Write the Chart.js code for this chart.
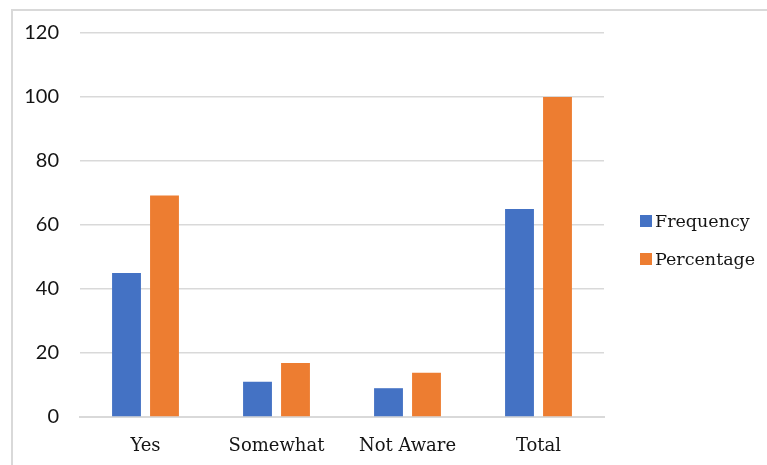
<!DOCTYPE html>
<html>
<head>
<meta charset="utf-8">
<script src="https://cdn.jsdelivr.net/npm/chart.js@4"></script>
<style>
  html, body { margin: 0; padding: 0; background: #ffffff; }
  #wrap { position: relative; width: 767px; height: 465px; overflow: hidden; }
  #frame { position: absolute; left: 11px; top: 9px; width: 800px; height: 500px;
           border-left: 2px solid #d9d9d9; border-top: 2px solid #d9d9d9; pointer-events: none; }
  canvas { position: absolute; left: 0; top: 0; }
</style>
</head>
<body>
<div id="wrap">
  <canvas id="c" width="767" height="465"></canvas>
  <div id="frame"></div>
</div>
<script>
// Awareness responses: counts and share of all respondents
const categories = ['Yes', 'Somewhat', 'Not Aware', 'Total'];
const frequency = [45, 11, 9, 65];
const percentage = [69.2, 16.9, 13.8, 100];
const seriesNames = ['Frequency', 'Percentage'];
const yTicks = [0, 20, 40, 60, 80, 100, 120];

const BLUE = '#4472C4';
const ORANGE = '#ED7D31';
const GRID = '#d9d9d9';
const TEXT = '#141414';
const SERIF = '"DejaVu Serif", serif';

// Legend drawn to the right of the plot, one square swatch per series
const sideLegend = {
  id: 'sideLegend',
  afterDraw(chart) {
    const ctx = chart.ctx;
    ctx.save();
    ctx.font = '17.5px ' + SERIF;
    ctx.textBaseline = 'middle';
    ctx.textAlign = 'left';
    chart.data.datasets.forEach((ds, i) => {
      const cy = 221 + i * 38;
      ctx.fillStyle = ds.backgroundColor;
      ctx.fillRect(640, cy - 6, 12, 12);
      ctx.fillStyle = TEXT;
      ctx.fillText(ds.label, 655, cy + 1);
    });
    ctx.restore();
  }
};

new Chart(document.getElementById('c'), {
  type: 'bar',
  data: {
    labels: categories,
    datasets: [
      { label: seriesNames[0], data: frequency, backgroundColor: BLUE },
      { label: seriesNames[1], data: percentage, backgroundColor: ORANGE }
    ]
  },
  options: {
    responsive: false,
    animation: false,
    devicePixelRatio: 1,
    layout: { padding: { top: 33, right: 163, bottom: 0, left: 0 } },
    datasets: {
      bar: { categoryPercentage: 0.58, barPercentage: 0.76 }
    },
    plugins: {
      legend: { display: false },
      tooltip: { enabled: false }
    },
    scales: {
      x: {
        grid: { display: false, drawTicks: false },
        border: { display: true, color: GRID, width: 2 },
        ticks: { color: TEXT, font: { family: SERIF, size: 18 }, padding: 19 },
        afterFit(scale) { scale.height = 48; }
      },
      y: {
        min: 0,
        max: 120,
        afterBuildTicks(scale) { scale.ticks = yTicks.map(v => ({ value: v })); },
        grid: { color: GRID, lineWidth: 1.5, drawTicks: false },
        border: { display: false },
        ticks: { color: TEXT, font: { family: 'Lato, sans-serif', size: 20 }, padding: 21 },
        afterFit(scale) { scale.width = 80; }
      }
    }
  },
  plugins: [sideLegend]
});
</script>
</body>
</html>
